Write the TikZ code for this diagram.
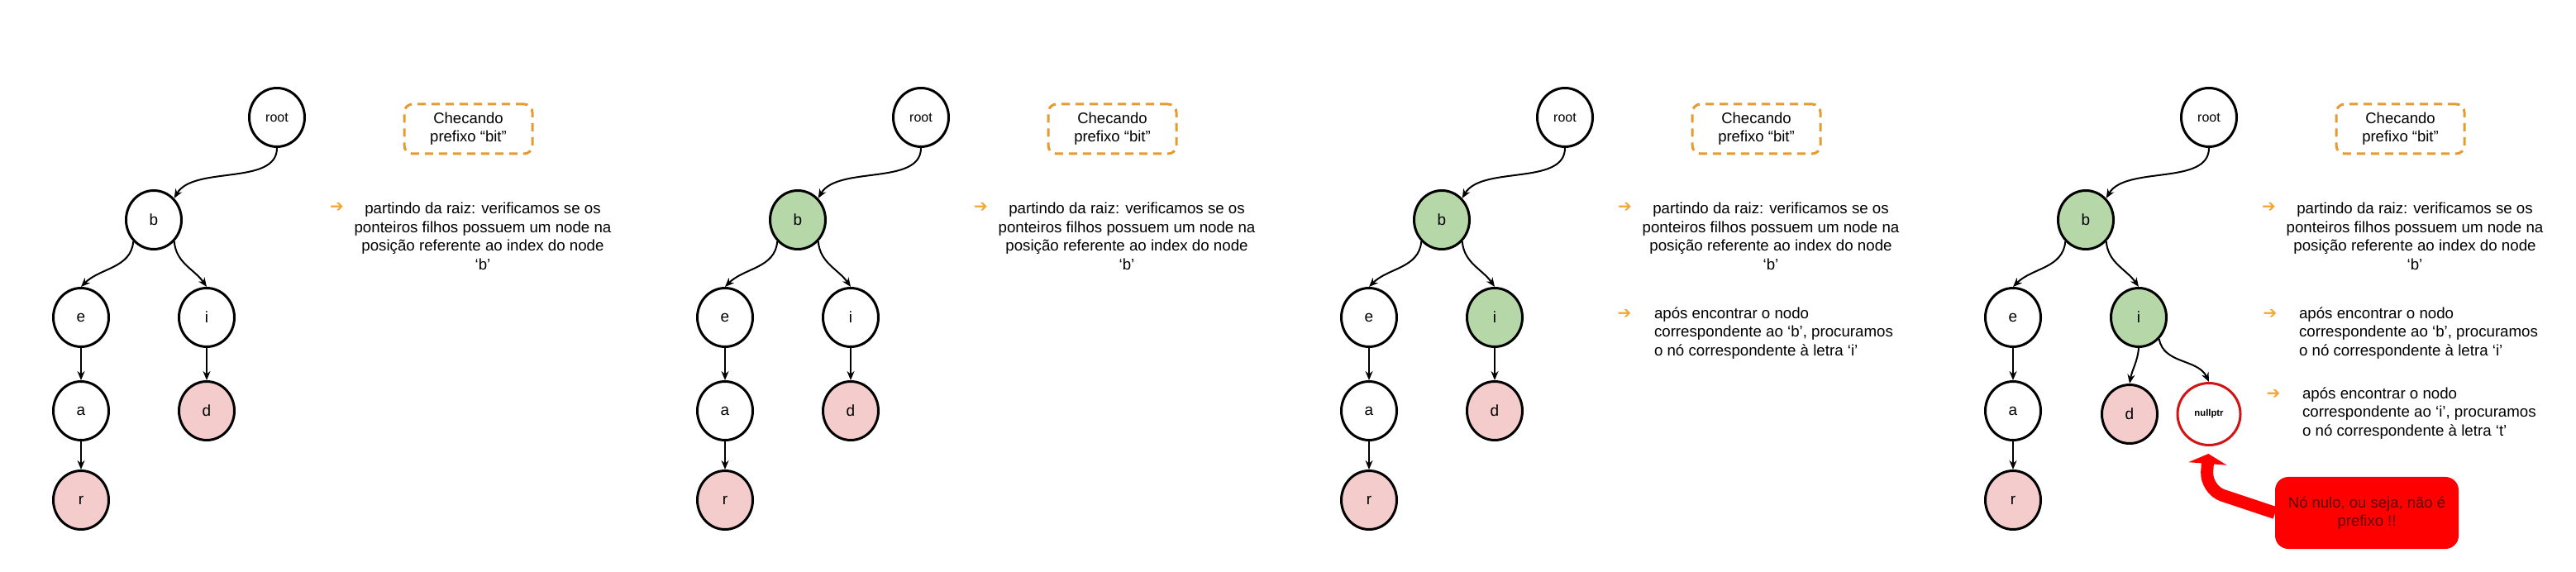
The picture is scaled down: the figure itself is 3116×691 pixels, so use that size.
\documentclass[tikz,border=0pt]{standalone}
\usepackage{fontspec}
\setmainfont{Liberation Sans}
\newfontfamily\symbfont{DejaVu Sans}
\usetikzlibrary{positioning,shapes.geometric,arrows.meta}

\definecolor{visited}{HTML}{B6D7A8}
\definecolor{leaf}{HTML}{F4CCCC}
\definecolor{hint}{HTML}{E69B30}
\definecolor{bulletorange}{HTML}{F2A634}
\definecolor{nullred}{HTML}{D21414}
\definecolor{alarm}{HTML}{FF0000}
\definecolor{alarmtext}{HTML}{5E0000}

\begin{document}
\begin{tikzpicture}[x=1pt,y=1pt,->,>={Stealth[length=11pt,width=9pt]},line width=2pt,node distance=113pt,
    main node/.style={ellipse,draw,line width=3pt,minimum width=67pt,minimum height=71pt,inner sep=0pt,fill=white,font=\fontsize{19}{19}\selectfont},
    root node/.style={main node,font=\fontsize{16}{16}\selectfont},
    seen node/.style={main node,fill=visited},
    leaf node/.style={main node,fill=leaf},
    null node/.style={main node,draw=nullred,minimum width=76pt,minimum height=75pt,font=\bfseries\fontsize{11.3}{12}\selectfont},
    hint box/.style={draw=hint,line width=3pt,dash pattern=on 10pt off 7pt,rounded corners=10pt,minimum width=155pt,minimum height=60pt,align=center,font=\fontsize{18.5}{22}\selectfont},
    bullet mark/.style={text=bulletorange,inner sep=0pt,font=\symbfont\fontsize{20}{20}\selectfont},
    note/.style={inner sep=0pt,font=\fontsize{18.7}{22.5}\selectfont},
    alarm box/.style={fill=alarm,draw=alarm,text=alarmtext,rounded corners=15pt,minimum width=220pt,minimum height=85pt,align=center,font=\fontsize{18.5}{22}\selectfont},
    alarm arrow/.style={-{Triangle[length=12pt,width=46pt]},draw=alarm,line width=15pt,rounded corners=22pt,shorten >=9pt}]
    \useasboundingbox (0,0) rectangle (3116,691);

    % passo 1
    \node[root node] (root1) at (335,549) {root};
    \node[main node] (b1) [below of = root1, xshift = -149, yshift = -11] {b};
    \node[main node] (e1) [below of = b1, xshift = -88, yshift = -5] {e};
    \node[main node] (i1) [right of = e1, xshift = 39] {i};
    \node[main node] (a1) [below of = e1] {a};
    \node[leaf node] (d1) [below of = i1] {d};
    \node[leaf node] (r1) [below of = a1, yshift = 5] {r};
    \path
        (root1.south) edge[out=-90,in=60,looseness=0.85] (b1.north east)
        (b1.south west) edge[out=-95,in=45] (e1.north)
        (b1.south east) edge[out=-85,in=125] (i1.north)
        (e1) edge (a1)
        (a1) edge (r1)
        (i1) edge (d1);
    \node[hint box] (c1) at (566.5,535) {Checando\\prefixo “bit”};
    \node[bullet mark] (m1) at (407.5,440) {➔};
    \node[note,align=center] (t1) at (584,405) {partindo da raiz: verificamos se os\\ponteiros filhos possuem um node na\\posição referente ao index do node\\‘b’};

    % passo 2
    \node[root node] (root2) at (1114,549) {root};
    \node[seen node] (b2) [below of = root2, xshift = -149, yshift = -11] {b};
    \node[main node] (e2) [below of = b2, xshift = -88, yshift = -5] {e};
    \node[main node] (i2) [right of = e2, xshift = 39] {i};
    \node[main node] (a2) [below of = e2] {a};
    \node[leaf node] (d2) [below of = i2] {d};
    \node[leaf node] (r2) [below of = a2, yshift = 5] {r};
    \path
        (root2.south) edge[out=-90,in=60,looseness=0.85] (b2.north east)
        (b2.south west) edge[out=-95,in=45] (e2.north)
        (b2.south east) edge[out=-85,in=125] (i2.north)
        (e2) edge (a2)
        (a2) edge (r2)
        (i2) edge (d2);
    \node[hint box] (c2) at (1345.5,535) {Checando\\prefixo “bit”};
    \node[bullet mark] (m2) at (1186.5,440) {➔};
    \node[note,align=center] (t2) at (1363,405) {partindo da raiz: verificamos se os\\ponteiros filhos possuem um node na\\posição referente ao index do node\\‘b’};

    % passo 3
    \node[root node] (root3) at (1893,549) {root};
    \node[seen node] (b3) [below of = root3, xshift = -149, yshift = -11] {b};
    \node[main node] (e3) [below of = b3, xshift = -88, yshift = -5] {e};
    \node[seen node] (i3) [right of = e3, xshift = 39] {i};
    \node[main node] (a3) [below of = e3] {a};
    \node[leaf node] (d3) [below of = i3] {d};
    \node[leaf node] (r3) [below of = a3, yshift = 5] {r};
    \path
        (root3.south) edge[out=-90,in=60,looseness=0.85] (b3.north east)
        (b3.south west) edge[out=-95,in=45] (e3.north)
        (b3.south east) edge[out=-85,in=125] (i3.north)
        (e3) edge (a3)
        (a3) edge (r3)
        (i3) edge (d3);
    \node[hint box] (c3) at (2124.5,535) {Checando\\prefixo “bit”};
    \node[bullet mark] (m3) at (1965.5,440) {➔};
    \node[note,align=center] (t3) at (2142,405) {partindo da raiz: verificamos se os\\ponteiros filhos possuem um node na\\posição referente ao index do node\\‘b’};
    \node[bullet mark] (m3b) at (1965,311) {➔};
    \node[note,align=left,anchor=west] (t3b) at (2000,288) {após encontrar o nodo\\correspondente ao ‘b’, procuramos\\o nó correspondente à letra ‘i’};

    % passo 4
    \node[root node] (root4) at (2672,549) {root};
    \node[seen node] (b4) [below of = root4, xshift = -149, yshift = -11] {b};
    \node[main node] (e4) [below of = b4, xshift = -88, yshift = -5] {e};
    \node[seen node] (i4) [right of = e4, xshift = 39] {i};
    \node[main node] (a4) [below of = e4] {a};
    \node[leaf node] (d4) [below of = i4, xshift = -11, yshift = -4] {d};
    \node[null node] (null4) [right of = d4, xshift = -17] {nullptr};
    \node[leaf node] (r4) [below of = a4, yshift = 5] {r};
    \path
        (root4.south) edge[out=-90,in=60,looseness=0.85] (b4.north east)
        (b4.south west) edge[out=-95,in=45] (e4.north)
        (b4.south east) edge[out=-85,in=125] (i4.north)
        (e4) edge (a4)
        (a4) edge (r4)
        (i4.south) edge[out=-95,in=80] (d4.north)
        (i4.south east) edge[out=-80,in=115] (null4.north);
    \node[hint box] (c4) at (2903.5,535) {Checando\\prefixo “bit”};
    \node[bullet mark] (m4) at (2744.5,440) {➔};
    \node[note,align=center] (t4) at (2921,405) {partindo da raiz: verificamos se os\\ponteiros filhos possuem um node na\\posição referente ao index do node\\‘b’};
    \node[bullet mark] (m4b) at (2746,311) {➔};
    \node[note,align=left,anchor=west] (t4b) at (2780,288) {após encontrar o nodo\\correspondente ao ‘b’, procuramos\\o nó correspondente à letra ‘i’};
    \node[bullet mark] (m4c) at (2750,214) {➔};
    \node[note,align=left,anchor=west] (t4c) at (2784,191) {após encontrar o nodo\\correspondente ao ‘i’, procuramos\\o nó correspondente à letra ‘t’};
    \node[alarm box] (n4) at (2863,70.5) {Nó nulo, ou seja, não é\\prefixo !!};
    \draw[alarm arrow] (n4.west) -- ++(-84,28) -- (null4.south);
\end{tikzpicture}
\end{document}
